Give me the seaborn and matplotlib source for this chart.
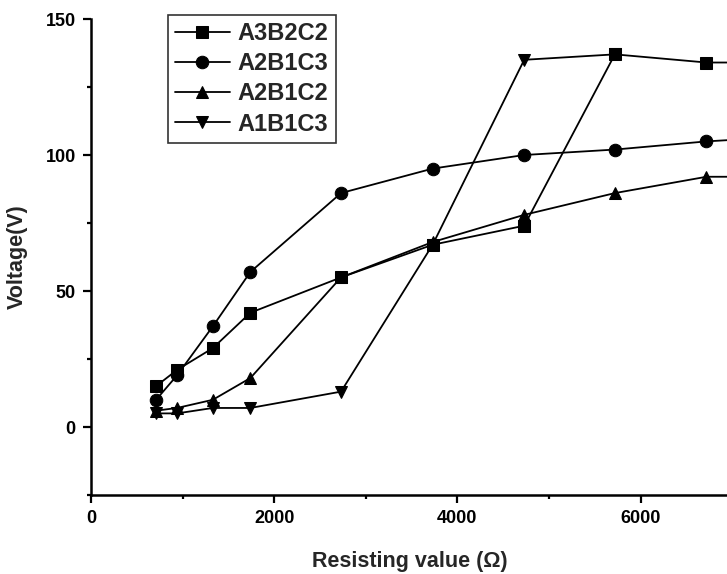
import matplotlib
matplotlib.use("Agg")
import matplotlib.pyplot as plt
import seaborn as sns
import pandas as pd
from matplotlib.ticker import MultipleLocator

resistance = [710, 940, 1330, 1740, 2730, 3730, 4730, 5720, 6720, 7720]
series_names = ["A3B2C2", "A2B1C3", "A2B1C2", "A1B1C3"]
a3b2c2 = [15, 21, 29, 42, 55, 67, 74, 137, 134, 134]
a2b1c3 = [10, 19, 37, 57, 86, 95, 100, 102, 105, 107]
a2b1c2 = [6, 7, 10, 18, 55, 68, 78, 86, 92, 92]
a1b1c3 = [5, 5, 7, 7, 13, 67, 135, 137]

values = [a3b2c2, a2b1c3, a2b1c2, a1b1c3]
rows = []
for name, vals in zip(series_names, values):
    for x, y in zip(resistance, vals):
        rows.append({"R": x, "V": y, "series": name})
df = pd.DataFrame(rows)

sns.set_theme(style="ticks")
plt.rcParams["font.family"] = ["Liberation Sans", "DejaVu Sans"]
plt.rcParams["font.weight"] = "bold"

fig = plt.figure(figsize=(7.27, 5.74), dpi=100)
ax = fig.add_axes([91 / 727, 79 / 574, 1 - 91 / 727 + 0.002, (495 - 19) / 574])

markers = {"A3B2C2": "s", "A2B1C3": "o", "A2B1C2": "^", "A1B1C3": "v"}
sns.lineplot(data=df, x="R", y="V", hue="series", style="series",
             hue_order=series_names, style_order=series_names,
             palette=["black"] * 4, markers=markers, dashes=False,
             markersize=9, linewidth=1.3, markeredgecolor="black",
             sort=False, estimator=None, ax=ax, clip_on=True)

ax.set_xlim(0, 6960)
ax.set_ylim(-25, 150)
ax.xaxis.set_major_locator(MultipleLocator(2000))
ax.xaxis.set_minor_locator(MultipleLocator(1000))
ax.yaxis.set_major_locator(MultipleLocator(50))
ax.yaxis.set_minor_locator(MultipleLocator(25))
ax.set_yticks([0, 50, 100, 150])

for s in ["top", "right"]:
    ax.spines[s].set_visible(False)
for s in ["left", "bottom"]:
    ax.spines[s].set_linewidth(1.8)
    ax.spines[s].set_color("black")

ax.tick_params(axis="both", which="major", direction="out", length=6, width=1.6,
               labelsize=13, colors="black", pad=5)
ax.tick_params(axis="both", which="minor", direction="out", length=3, width=1.6,
               colors="black")
for lab in ax.get_xticklabels() + ax.get_yticklabels():
    lab.set_fontweight("bold")

ax.set_xlabel("Resisting value (Ω)", fontsize=15.5, fontweight="bold", labelpad=17)
ax.set_ylabel("Voltage(V)", fontsize=15.5, fontweight="bold", labelpad=13)

leg = ax.legend(loc="upper left", bbox_to_anchor=(0.121, 1.008), fontsize=17,
                frameon=True, fancybox=False, edgecolor="black",
                handlelength=2.3, handletextpad=0.35, borderpad=0.3,
                labelspacing=0.3, borderaxespad=0)
leg.get_frame().set_linewidth(1.2)
for t in leg.get_texts():
    t.set_fontweight("bold")

fig.savefig("out.png", dpi=100)
